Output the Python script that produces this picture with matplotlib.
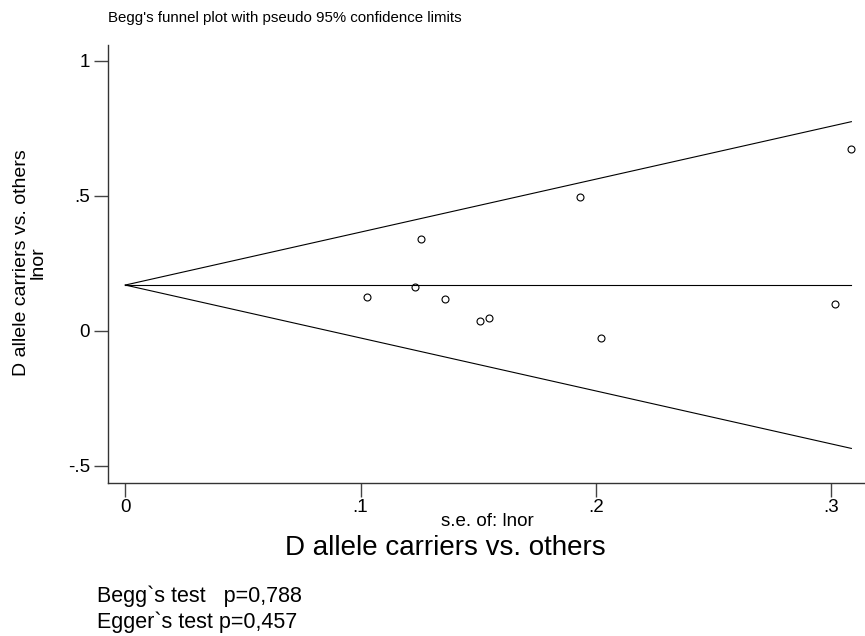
import matplotlib
matplotlib.use("Agg")
import matplotlib.pyplot as plt
import numpy as np
from matplotlib import font_manager

# Data
se_values = [0.1027, 0.1233, 0.1257, 0.136, 0.151, 0.1546, 0.1935, 0.2024, 0.3016, 0.3087]
lnor_values = [0.127, 0.164, 0.341, 0.117, 0.037, 0.048, 0.496, -0.025, 0.100, 0.675]
pooled_lnor = 0.170
max_se = 0.3087
x_ticks = [0, 0.1, 0.2, 0.3]
x_ticklabels = ["0", ".1", ".2", ".3"]
y_ticks = [-0.5, 0, 0.5, 1]
y_ticklabels = ["-.5", "0", ".5", "1"]

names = {f.name for f in font_manager.fontManager.ttflist}
main_font = "Liberation Sans" if "Liberation Sans" in names else "DejaVu Sans"
narrow_font = "Liberation Sans Narrow" if "Liberation Sans Narrow" in names else main_font
plt.rcParams["font.family"] = [main_font, "DejaVu Sans"]

fig = plt.figure(figsize=(8.65, 6.36), dpi=100)
ax = fig.add_axes([108/865, 1-482.7/636, 1-108/865, (482.7-45)/636])

# funnel lines
se_line = np.array([0, max_se])
ax.plot(se_line, [pooled_lnor, pooled_lnor], color="black", lw=0.8)
ax.plot(se_line, pooled_lnor + 1.96*se_line, color="black", lw=0.8)
ax.plot(se_line, pooled_lnor - 1.96*se_line, color="black", lw=0.8)

ax.plot(se_values, lnor_values, linestyle="none", marker="o", markersize=5,
        markerfacecolor="none", markeredgecolor="black", markeredgewidth=0.8)

ax.set_xlim(-0.00736, 0.3145)
ax.set_ylim(-0.562, 1.059)
ax.set_xticks(x_ticks)
ax.set_xticklabels(x_ticklabels)
ax.set_yticks(y_ticks)
ax.set_yticklabels(y_ticklabels)
ax.tick_params(axis="both", length=10, width=1, color="#444444", labelsize=13.5, pad=3)
ax.tick_params(axis="x", pad=2)
for s in ["top", "right"]:
    ax.spines[s].set_visible(False)
for s in ["left", "bottom"]:
    ax.spines[s].set_linewidth(1)
    ax.spines[s].set_color("#333333")

fig.text(108/865, 1-18/636, "Begg's funnel plot with pseudo 95% confidence limits",
         fontsize=10.8, ha="left", va="center")
fig.text(30/865, 1-263/636, "D allele carriers vs. others\nlnor", rotation=90,
         fontsize=14, ha="center", va="center", linespacing=1.0)
fig.text(487/865, 1-522/636, "s.e. of: lnor", fontsize=13.5, ha="center", va="center")
fig.text(445.5/865, 1-548/636, "D allele carriers vs. others", fontsize=20, ha="center", va="center")
fig.text(97/865, 1-596/636, "Begg`s test   p=0,788", fontsize=15.5, ha="left", va="center",
         family=[narrow_font, "DejaVu Sans"])
fig.text(97/865, 1-622/636, "Egger`s test p=0,457", fontsize=15.5, ha="left", va="center",
         family=[narrow_font, "DejaVu Sans"])

fig.savefig("out.png", dpi=100)
